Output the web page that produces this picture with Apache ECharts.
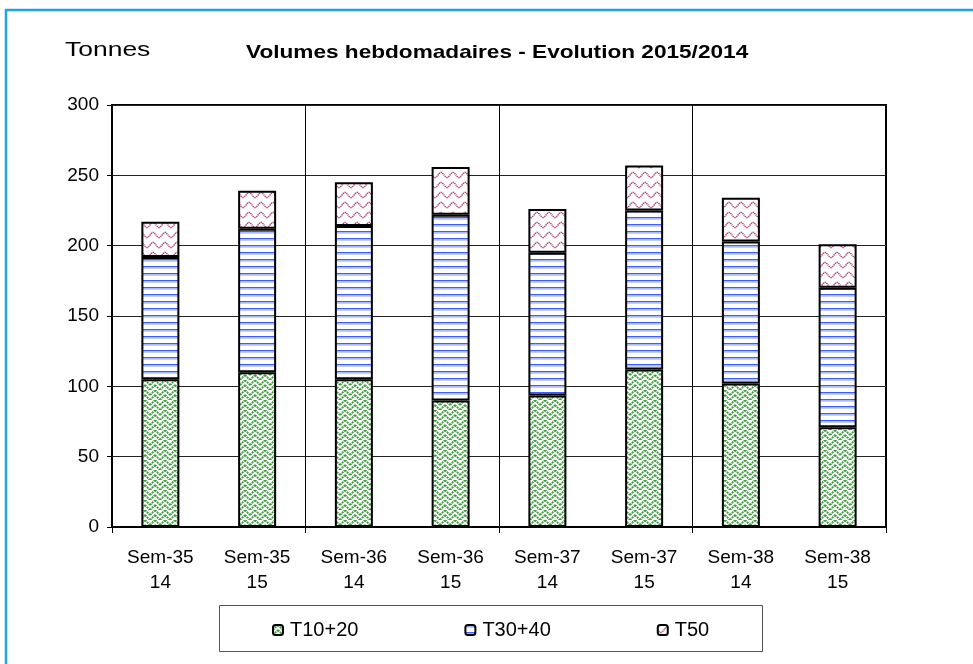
<!DOCTYPE html>
<html><head><meta charset="utf-8">
<script src="https://cdn.jsdelivr.net/npm/echarts@6/dist/echarts.min.js"></script>
<style>html,body{margin:0;padding:0;background:#fff}#c{width:973px;height:664px}</style>
</head><body><div id="c"></div>
<script>
const categories = ['Sem-35\n14','Sem-35\n15','Sem-36\n14','Sem-36\n15','Sem-37\n14','Sem-37\n15','Sem-38\n14','Sem-38\n15'];
const seriesNames = ['T10+20','T30+40','T50'];
const t1020 = [105, 110, 105, 90, 93.5, 112, 102, 71];
const t3040 = [87, 102, 109, 132, 101.5, 113, 101, 99];
const t50 = [25, 27, 31, 34, 31, 32, 31, 31];
const yMin = 0, yMax = 300, yStep = 50;

function makeCanvas(w, h, draw) {
  const c = document.createElement('canvas');
  c.width = w; c.height = h;
  const ctx = c.getContext('2d');
  ctx.fillStyle = '#fff'; ctx.fillRect(0, 0, w, h);
  draw(ctx);
  return c;
}
const greenPat = makeCanvas(10, 10, ctx => {
  ctx.strokeStyle = '#3c9c3c'; ctx.lineWidth = 1.8; ctx.setLineDash([2, 0.7]);
  ctx.beginPath();
  ctx.moveTo(0, 5); ctx.lineTo(5, 0);
  ctx.moveTo(0, 10); ctx.lineTo(5, 5);
  ctx.moveTo(5, 0); ctx.lineTo(10, 5);
  ctx.moveTo(5, 5); ctx.lineTo(10, 10);
  ctx.stroke();
});
const bluePat = makeCanvas(4, 7, ctx => {
  ctx.fillStyle = '#3d5ff5'; ctx.fillRect(0, 0, 4, 1.3);
  ctx.fillStyle = '#9fb2ff'; ctx.fillRect(0, 1.3, 4, 1.3);
});
const pinkPat = makeCanvas(12, 10, ctx => {
  ctx.strokeStyle = '#b2497c'; ctx.lineWidth = 1.4; ctx.setLineDash([1.5, 0.6]);
  ctx.beginPath();
  for (let x = -0.5; x <= 12.5; x += 0.5) {
    const y = 5 + 2.6 * Math.sin(2 * Math.PI * x / 12);
    if (x === -0.5) ctx.moveTo(x, y); else ctx.lineTo(x, y);
  }
  ctx.stroke();
});

const chart = echarts.init(document.getElementById('c'), null, {renderer: 'canvas'});
const fontFam = 'Arial, "Liberation Sans", sans-serif';
function barSeries(name, data, pat) {
  return {
    name, type: 'bar', stack: 'tot', data, barWidth: 38,
    itemStyle: { color: { image: pat, repeat: 'repeat' }, borderColor: '#000', borderWidth: 2 },
    emphasis: { disabled: true }
  };
}
const everyOther = (i) => i % 2 === 0;
chart.setOption({
  animation: false,
  backgroundColor: '#fff',
  textStyle: { fontFamily: fontFam, color: '#000' },
  grid: { left: 112, right: 87, top: 105, bottom: 137, show: true, borderColor: '#000', borderWidth: 2, backgroundColor: 'transparent' },
  legend: {
    left: 267, top: 615, itemWidth: 10, itemHeight: 10, itemGap: 106,
    textStyle: { fontSize: 20, color: '#000', fontFamily: fontFam, padding: [0, 0, 0, 2] },
    data: seriesNames
  },
  xAxis: {
    type: 'category', data: categories,
    axisLine: { lineStyle: { color: '#000', width: 2 } },
    axisTick: { show: true, interval: everyOther, length: 6, lineStyle: { color: '#000', width: 1 } },
    splitLine: { show: true, interval: everyOther, lineStyle: { color: '#000', width: 1 } },
    axisLabel: { interval: 0, fontSize: 19, lineHeight: 25, color: '#000', margin: 18 }
  },
  yAxis: {
    type: 'value', min: yMin, max: yMax, interval: yStep,
    axisLine: { show: true, lineStyle: { color: '#000', width: 2 } },
    axisTick: { show: true, length: 5, lineStyle: { color: '#000', width: 1 } },
    splitLine: { show: true, lineStyle: { color: '#222', width: 1 } },
    axisLabel: { fontSize: 19, color: '#000', margin: 13 }
  },
  graphic: [
    { type: 'polyline', shape: { points: [[6, 664], [6, 10], [973, 10]] }, style: { stroke: '#1ba5e1', lineWidth: 2.5, fill: null } },
    { type: 'rect', shape: { x: 219.5, y: 605.5, width: 543, height: 46 }, style: { stroke: '#555', lineWidth: 1, fill: null }, z: -1 },
    { type: 'text', x: 65, y: 40, scaleX: 1.26, style: { text: 'Tonnes', font: '21px ' + fontFam, fill: '#000' } },
    { type: 'text', x: 246, y: 43, scaleX: 1.19, style: { text: 'Volumes hebdomadaires - Evolution 2015/2014', font: 'bold 19px ' + fontFam, fill: '#000' } }
  ],
  series: [
    barSeries(seriesNames[0], t1020, greenPat),
    barSeries(seriesNames[1], t3040, bluePat),
    barSeries(seriesNames[2], t50, pinkPat)
  ]
});
</script></body></html>
